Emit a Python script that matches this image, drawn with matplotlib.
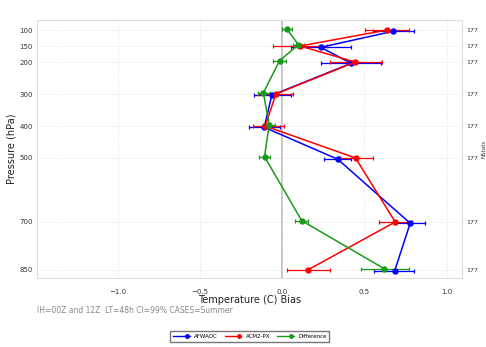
import matplotlib
matplotlib.use("Agg")
import matplotlib.pyplot as plt
from matplotlib.lines import Line2D
from matplotlib.legend_handler import HandlerBase
import numpy as np

levels = [100, 150, 200, 300, 400, 500, 700, 850]
nstats = ["177"] * 8

# bias and 99% CI bounds for each series
afwaoc = [0.673, 0.235, 0.419, -0.063, -0.109, 0.338, 0.778, 0.683]
afwaoc_lo = [0.551, 0.053, 0.237, -0.170, -0.200, 0.255, 0.687, 0.561]
afwaoc_hi = [0.802, 0.419, 0.602, 0.053, -0.012, 0.419, 0.869, 0.804]

acm2 = [0.636, 0.109, 0.444, -0.038, -0.103, 0.446, 0.687, 0.156]
acm2_lo = [0.506, -0.057, 0.288, -0.144, -0.178, 0.349, 0.586, 0.028]
acm2_hi = [0.768, 0.272, 0.606, 0.065, 0.014, 0.551, 0.790, 0.288]

diff = [0.028, 0.099, -0.016, -0.114, -0.079, -0.107, 0.119, 0.620]
diff_lo = [-0.002, 0.065, -0.053, -0.144, -0.117, -0.138, 0.081, 0.478]
diff_hi = [0.059, 0.130, 0.022, -0.073, -0.043, -0.073, 0.160, 0.768]

series = [
    ("AFWAOC", afwaoc, afwaoc_lo, afwaoc_hi, "blue", 4),
    ("ACM2-PX", acm2, acm2_lo, acm2_hi, "red", 0),
    ("Difference", diff, diff_lo, diff_hi, "#1a9a1a", -4),
]


class EndDot(HandlerBase):
    # legend key: line with the dot near its right end
    def create_artists(self, legend, orig, xd, yd, w, h, fontsize, trans):
        y = h / 2 - yd
        c = orig.get_color()
        line = Line2D([-xd, -xd + w], [y, y], color=c, lw=1.0, transform=trans)
        dot = Line2D([-xd + w * 0.85], [y], color=c, marker="o", ms=2.5,
                     linestyle="None", transform=trans)
        return [line, dot]


fig = plt.figure(figsize=(4.86, 3.47), dpi=100)
ax = fig.add_axes([0.076, 0.199, 0.875, 0.743])

ax.axvline(0, color="#bbbbbb", lw=1.2, zorder=1)

handles = []
for name, vals, lo, hi, col, off in series:
    v = np.array(vals)
    p = np.array(levels) + off
    err = [v - np.array(lo), np.array(hi) - v]
    ax.errorbar(v, p, xerr=err, color=col, marker="o", ms=3.6, lw=1.1,
                elinewidth=0.9, capsize=1.2, capthick=0.9, zorder=3)
    handles.append(Line2D([0], [0], color=col, label=name))

ax.set_xlim(-1.49, 1.094)
ax.set_ylim(875, 69)
ax.set_yticks(levels)
ax.set_xticks([-1.0, -0.5, 0.0, 0.5, 1.0])
ax.set_xticklabels(["\u22121.0", "\u22120.5", "0.0", "0.5", "1.0"])
ax.grid(True, color="#dddddd", linestyle=":", lw=0.6)
ax.tick_params(length=0, labelsize=5, colors="#333333", pad=3)
ax.tick_params(axis="x", pad=8)
for s in ax.spines.values():
    s.set_color("#dddddd")

ax.set_xlabel("Temperature (C) Bias", fontsize=7, color="#222222", labelpad=0)
ax.set_ylabel("Pressure (hPa)", fontsize=7, color="#222222", labelpad=2)

ax2 = ax.twinx()
ax2.set_ylim(ax.get_ylim())
ax2.set_yticks(levels)
ax2.set_yticklabels(nstats)
ax2.tick_params(length=0, labelsize=4.5, colors="#333333", pad=3)
ax2.set_ylabel("NStats", fontsize=4, color="#333333", labelpad=2)
for s in ax2.spines.values():
    s.set_visible(False)

fig.text(0.076, 0.105, "IH=00Z and 12Z  LT=48h CI=99% CASES=Summer",
         fontsize=5.5, color="#888888", va="center")

fig.legend(handles=handles, loc="center", bbox_to_anchor=(0.514, 0.031),
           ncol=3, fontsize=4, frameon=True, fancybox=False,
           edgecolor="#555555", handlelength=3, columnspacing=1.2,
           borderpad=0.5, handler_map={Line2D: EndDot()})

fig.savefig("out.png", dpi=100)
